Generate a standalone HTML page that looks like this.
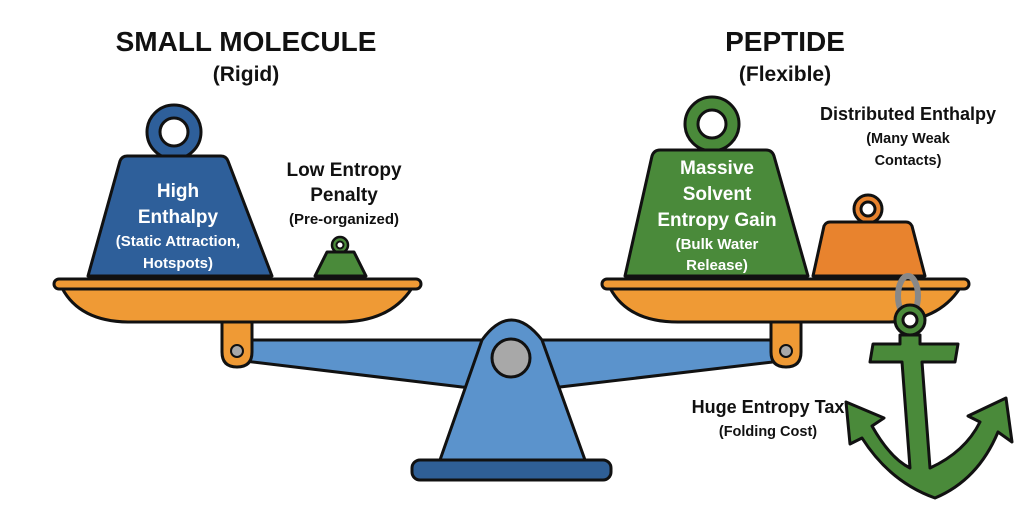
<!DOCTYPE html>
<html><head><meta charset="utf-8"><style>
html,body{margin:0;padding:0;background:#fff;}
svg{display:block;}
text{font-family:"Liberation Sans",sans-serif;font-weight:bold;text-anchor:middle;}
</style></head><body>
<svg width="1024" height="508" viewBox="0 0 1024 508" xmlns="http://www.w3.org/2000/svg">
<g stroke="#111" stroke-width="3" stroke-linejoin="round">
<polygon points="236,340 790,340 790,360 560,387 511,390 462,387 236,360" fill="#5b93cc"/>
<path d="M440,460 L482,340 Q511,300 542,340 L585,460 Z" fill="#5b93cc"/>
<circle cx="511" cy="358" r="19" fill="#a8a8a8"/>
<rect x="412" y="460" width="199" height="20" rx="8" fill="#2f5f96"/>
<path d="M222,318 L252,318 L252,352 Q252,367 237,367 Q222,367 222,352 Z" fill="#ef9a35"/>
<circle cx="237" cy="351" r="6" fill="#a8a8a8" stroke-width="2"/>
<path d="M771,318 L801,318 L801,352 Q801,367 786,367 Q771,367 771,352 Z" fill="#ef9a35"/>
<circle cx="786" cy="351" r="6" fill="#a8a8a8" stroke-width="2"/>
<circle cx="174" cy="132" r="27" fill="#2e5f9a"/>
<circle cx="174" cy="132" r="14" fill="#fff"/>
<path d="M127,156 L221,156 Q226,156 228,161 L272,276 L88,276 L120,161 Q122,156 127,156 Z" fill="#2e5f9a"/>
<circle cx="340" cy="245" r="8" fill="#4a8a3a" stroke-width="2.5"/>
<circle cx="340" cy="245" r="3.5" fill="#fff" stroke-width="2"/>
<path d="M327,252 L354,252 L366,276 L315,276 Z" fill="#4a8a3a"/>
<circle cx="712" cy="124" r="27" fill="#4a8a3a"/>
<circle cx="712" cy="124" r="14" fill="#fff"/>
<path d="M660,150 L766,150 Q772,150 774,156 L808,276 L625,276 L652,156 Q654,150 660,150 Z" fill="#4a8a3a"/>
<circle cx="868" cy="209" r="14" fill="#e8832e"/>
<circle cx="868" cy="209" r="7" fill="#fff"/>
<path d="M830,222 L906,222 Q910,222 912,226 L925,276 L813,276 L824,226 Q826,222 830,222 Z" fill="#e8832e"/>
<path d="M62,288 L412,288 Q390,322 340,322 L130,322 Q80,322 62,288 Z" fill="#ef9a35"/>
<rect x="54" y="279" width="367" height="10" rx="5" fill="#ef9a35"/>
<path d="M610,288 L960,288 Q938,322 888,322 L678,322 Q628,322 610,288 Z" fill="#ef9a35"/>
<rect x="602" y="279" width="367" height="10" rx="5" fill="#ef9a35"/>
<ellipse cx="908" cy="296" rx="10" ry="20" fill="none" stroke="#888" stroke-width="6"/>
<circle cx="910" cy="320" r="15" fill="#4a8a3a"/>
<circle cx="910" cy="320" r="7" fill="#fff"/>
<path d="M900,335 L920,335 L920,344 L958,344 L955,362 L922,362 L930,468 Q965,452 980,422 L968,416 L1006,398 L1012,442 L998,432 Q978,480 935,498 Q890,482 862,438 L850,444 L846,402 L884,418 L872,426 Q890,458 910,468 L902,362 L870,362 L873,344 L900,344 Z" fill="#4a8a3a"/>
</g>
<text x="246" y="51" font-size="28" fill="#111">SMALL MOLECULE</text>
<text x="246" y="81" font-size="21" fill="#111">(Rigid)</text>
<text x="785" y="51" font-size="28" fill="#111">PEPTIDE</text>
<text x="785" y="81" font-size="21" fill="#111">(Flexible)</text>
<g fill="#fff">
<text x="178" y="197" font-size="19">High</text>
<text x="178" y="223" font-size="19">Enthalpy</text>
<text x="178" y="246" font-size="15">(Static Attraction,</text>
<text x="178" y="268" font-size="15">Hotspots)</text>
<text x="717" y="174" font-size="19">Massive</text>
<text x="717" y="200" font-size="19">Solvent</text>
<text x="717" y="226" font-size="19">Entropy Gain</text>
<text x="717" y="249" font-size="15">(Bulk Water</text>
<text x="717" y="270" font-size="15">Release)</text>
</g>
<g fill="#111">
<text x="344" y="176" font-size="19">Low Entropy</text>
<text x="344" y="201" font-size="19">Penalty</text>
<text x="344" y="224" font-size="15">(Pre-organized)</text>
<text x="908" y="120" font-size="18">Distributed Enthalpy</text>
<text x="908" y="143" font-size="14.5">(Many Weak</text>
<text x="908" y="165" font-size="14.5">Contacts)</text>
<text x="768" y="413" font-size="18">Huge Entropy Tax</text>
<text x="768" y="436" font-size="14.5">(Folding Cost)</text>
</g>
</svg>
</body></html>
